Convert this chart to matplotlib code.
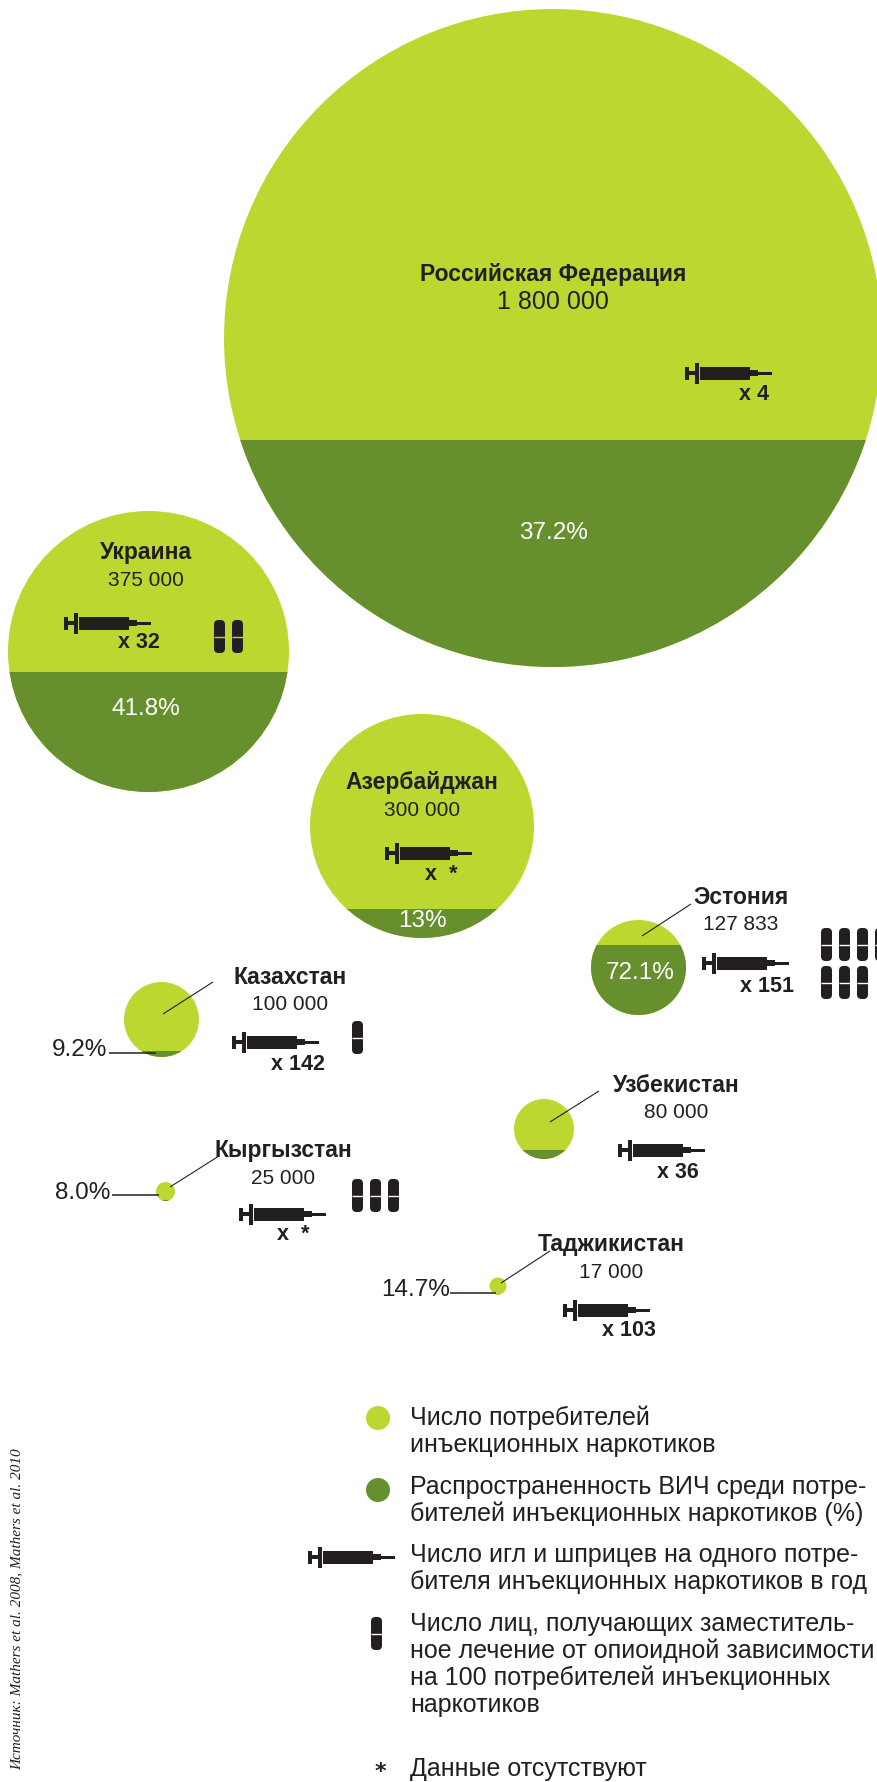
import matplotlib
matplotlib.use("Agg")
import matplotlib.pyplot as plt
from matplotlib.patches import Circle, Rectangle, FancyBboxPatch

LIGHT = "#BDD731"
DARK = "#66902D"
INK = "#231F20"

plt.rcParams["font.family"] = ["Liberation Sans", "DejaVu Sans"]

# data
COUNTRIES = ["Российская Федерация", "Украина", "Азербайджан", "Эстония",
             "Казахстан", "Узбекистан", "Кыргызстан", "Таджикистан"]
USERS = ["1 800 000", "375 000", "300 000", "127 833",
         "100 000", "80 000", "25 000", "17 000"]
HIV_LABELS = ["37.2%", "41.8%", "13%", "72.1%", "9.2%", "", "8.0%", "14.7%"]
SYRINGES = ["x 4", "x 32", "x  *", "x 151", "x 142", "x 36", "x  *", "x 103"]
PILLS = [0, 2, 0, 7, 1, 0, 3, 0]
# dark part of each circle, share of the diameter
DARK_SHARE = [0.345, 0.427, 0.13, 0.737, 0.08, 0.15, 0.05, 0.05]

# layout, in pixels of the 877x1782 picture
CENTERS = [(553, 338), (148.5, 651.5), (422, 826), (638.5, 967.5),
           (161.5, 1019.5), (544, 1129), (165.5, 1191.5), (498, 1286)]
RADII = [329, 140.5, 112, 47.5, 37.5, 30, 9.5, 8.5]
NAME_POS = [(553, 273), (146, 551), (422, 781), (741, 895),
            (290, 976), (676, 1083), (283, 1148), (611, 1243)]
NUM_POS = [(553, 300), (146, 578), (422, 808), (741, 922),
           (290, 1003), (676, 1111), (283, 1176), (611, 1271)]
SYR_POS = [(685, 373), (64, 623), (385, 853), (702, 963),
           (232, 1042), (618, 1150), (239, 1214), (563, 1310)]
SYR_TEXT_POS = [(754, 392), (139, 640), (441, 873), (767, 984),
                (298, 1062), (678, 1170), (293, 1233), (629, 1329)]
HIV_POS = [(553, 531), (146, 707), (422, 919), (640, 971),
           (80, 1048), None, (83, 1191), (416, 1288)]
HIV_LINES = [None, None, None, None,
             ((109, 1053), (156, 1053)), None,
             ((112, 1195), (159, 1195)), ((450, 1293), (496, 1293))]
LEADERS = [None, None, None, ((691, 904), (642, 936)),
           ((213, 982), (163, 1014)), ((599, 1091), (550, 1122)),
           ((219, 1156), (170, 1187)), ((550, 1251), (501, 1283))]
PILL_POS = [None, (214, 620), None, (821, 928), (352, 1021), None, (352, 1179), None]
PILL_BG = [None, LIGHT, None, "white", "white", None, "white", None]

LEGEND_TEXT = [
    ("Число потребителей", 1416), ("инъекционных наркотиков", 1443),
    ("Распространенность ВИЧ среди потре-", 1485),
    ("бителей инъекционных наркотиков (%)", 1512),
    ("Число игл и шприцев на одного потре-", 1553),
    ("бителя инъекционных наркотиков в год", 1580),
    ("Число лиц, получающих заместитель-", 1622),
    ("ное лечение от опиоидной зависимости", 1649),
    ("на 100 потребителей инъекционных", 1676),
    ("наркотиков", 1703),
    ("Данные отсутствуют", 1767),
]
SOURCE = "Источник: Mathers et al. 2008, Mathers et al. 2010"

TEXT_DY = 2  # bbox centre sits a bit high because of descenders

fig = plt.figure(figsize=(8.77, 17.82), dpi=100, facecolor="white")
ax = fig.add_axes([0, 0, 1, 1])
ax.set_xlim(0, 877)
ax.set_ylim(1782, 0)
ax.axis("off")


def label(pos, s, **kw):
    ax.text(pos[0], pos[1] + TEXT_DY, s, va="center", **kw)


def draw_bubble(x, y, r, share):
    ax.add_patch(Circle((x, y), r, fc=LIGHT, ec="none"))
    top = y + r - 2 * r * share
    dark = Circle((x, y), r, fc=DARK, ec="none")
    ax.add_patch(dark)
    dark.set_clip_path(Rectangle((x - r, top), 2 * r, 2 * r * share, transform=ax.transData))


def draw_syringe(x, y):
    # x is the left end of the plunger, y the axis
    parts = [(0, 4, 13), (4, 6, 4), (10, 4, 21), (15, 50, 13), (65, 8, 6.5), (73, 14, 3)]
    for dx, w, h in parts:
        ax.add_patch(Rectangle((x + dx, y - h / 2), w, h, fc=INK, ec="none"))


def draw_pill(x, y, bg):
    w, h = 11, 33
    ax.add_patch(FancyBboxPatch((x + 5, y + 5), w - 10, h - 10, boxstyle="round,pad=5,rounding_size=4.5",
                                fc=INK, ec="none"))
    ax.plot([x - 0.5, x + w + 0.5], [y + h / 2, y + h / 2], color=bg, lw=1.0, solid_capstyle="butt")


for i, name in enumerate(COUNTRIES):
    draw_bubble(CENTERS[i][0], CENTERS[i][1], RADII[i], DARK_SHARE[i])

    big = i == 0
    label(NAME_POS[i], name, ha="center", fontweight="bold", color=INK, fontsize=16.5)
    label(NUM_POS[i], USERS[i], ha="center", color=INK, fontsize=18 if big else 15)

    draw_syringe(*SYR_POS[i])
    label(SYR_TEXT_POS[i], SYRINGES[i], ha="center", fontweight="bold", color=INK, fontsize=15.5)

    if HIV_LABELS[i]:
        inside = HIV_LINES[i] is None
        label(HIV_POS[i], HIV_LABELS[i], ha="center", fontsize=17.5,
              color="white" if inside else INK)
    if HIV_LINES[i]:
        (x0, y0), (x1, y1) = HIV_LINES[i]
        ax.plot([x0, x1], [y0, y1], color=INK, lw=1.1, solid_capstyle="butt")
    if LEADERS[i]:
        (x0, y0), (x1, y1) = LEADERS[i]
        ax.plot([x0, x1], [y0, y1], color=INK, lw=0.8, solid_capstyle="butt")

    # pills: rows of four at most
    for k in range(PILLS[i]):
        px = PILL_POS[i][0] + (k % 4) * 18
        py = PILL_POS[i][1] + (k // 4) * 38
        draw_pill(px, py, PILL_BG[i])

# legend
ax.add_patch(Circle((378, 1418), 12, fc=LIGHT, ec="none"))
ax.add_patch(Circle((378, 1490), 12, fc=DARK, ec="none"))
draw_syringe(308, 1557)
draw_pill(371, 1617, "white")
ax.text(381, 1771, r"$\mathbf{*}$", ha="center", va="center", fontsize=16, color=INK)
for line, y in LEGEND_TEXT:
    label((410, y), line, ha="left", color=INK, fontsize=18)

ax.text(17, 1770, SOURCE, rotation=90, ha="center", va="bottom", color=INK, fontsize=11,
        family="Liberation Serif", style="italic")

fig.savefig("out.png", dpi=100)
